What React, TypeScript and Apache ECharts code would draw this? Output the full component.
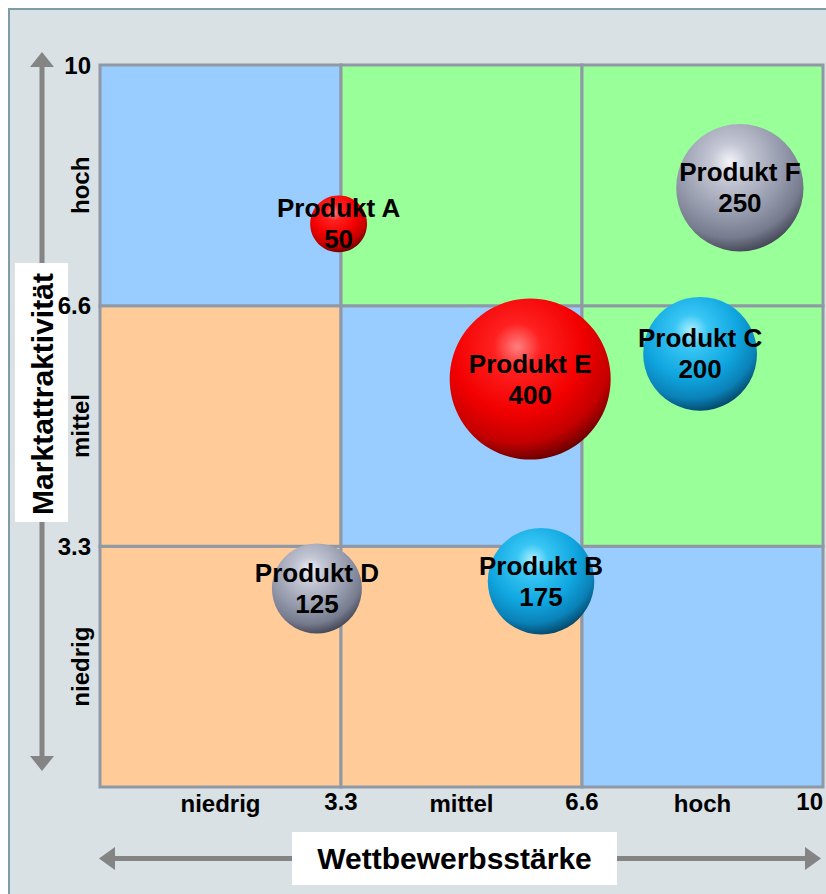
import React, { useEffect, useRef } from "react";
import * as echarts from "echarts";

// ---- data ----
const products = ["Produkt A", "Produkt B", "Produkt C", "Produkt D", "Produkt E", "Produkt F"];
const strength = [3.3, 6.1, 8.3, 3.0, 5.95, 8.85]; // Wettbewerbsstärke (x)
const attractiveness = [7.8, 2.85, 6.0, 2.75, 5.65, 8.3]; // Marktattraktivität (y)
const revenue = [50, 175, 200, 125, 400, 250]; // bubble value
const colorGroup = ["red", "blue", "blue", "gray", "red", "gray"];

const bandEdges = [0, 10 / 3, 20 / 3, 10];
const tickLabels = ["", "3.3", "6.6", "10"];
const levelLabels = ["niedrig", "mittel", "hoch"];
// cell colours, rows from bottom to top, columns left to right
const cellColors = [
  ["orange", "orange", "blue"],
  ["orange", "blue", "green"],
  ["blue", "green", "green"],
];

const cellPalette: Record<string, string> = {
  blue: "#99CCFF",
  green: "#99FF99",
  orange: "#FFCC99",
};

const FONT = "'Liberation Sans', Arial, Helvetica, sans-serif";

function sphere(kind: string) {
  const stops: Record<string, { offset: number; color: string }[]> = {
    red: [
      { offset: 0, color: "#ff8080" },
      { offset: 0.2, color: "#ff2020" },
      { offset: 0.55, color: "#f20000" },
      { offset: 0.8, color: "#c40000" },
      { offset: 1, color: "#560000" },
    ],
    blue: [
      { offset: 0, color: "#b0f0ff" },
      { offset: 0.2, color: "#38c6f4" },
      { offset: 0.55, color: "#10a6e0" },
      { offset: 0.8, color: "#0a82b8" },
      { offset: 1, color: "#033c5a" },
    ],
    gray: [
      { offset: 0, color: "#f4f5fa" },
      { offset: 0.2, color: "#c4c7d4" },
      { offset: 0.55, color: "#979cae" },
      { offset: 0.8, color: "#767b8e" },
      { offset: 1, color: "#393c4a" },
    ],
  };
  return new echarts.graphic.RadialGradient(0.42, 0.3, 0.74, stops[kind]);
}

function tickIndex(v: number) {
  return Math.round(v / (10 / 3));
}

export default function App() {
  const ref = useRef<HTMLDivElement>(null);

  useEffect(() => {
    if (!ref.current) return;
    const chart = echarts.init(ref.current, undefined, { renderer: "svg" });

    const cells: any[] = [];
    for (let r = 0; r < 3; r++) {
      for (let c = 0; c < 3; c++) {
        cells.push([
          {
            xAxis: bandEdges[c],
            yAxis: bandEdges[r],
            itemStyle: { color: cellPalette[cellColors[r][c]] },
          },
          { xAxis: bandEdges[c + 1], yAxis: bandEdges[r + 1] },
        ]);
      }
    }

    const bubbles = products.map((name, i) => ({
      name,
      value: [strength[i], attractiveness[i], revenue[i]],
      symbolSize: 8.05 * Math.sqrt(revenue[i]),
      itemStyle: { color: sphere(colorGroup[i]), opacity: 1 },
    }));

    const gray = "#848484";
    const labelStyle = {
      color: "#000",
      fontFamily: FONT,
      fontWeight: "bold" as const,
      fontSize: 24,
    };

    chart.setOption({
      animation: false,
      backgroundColor: "#ffffff",
      grid: { left: 100, right: 3, top: 65, bottom: 107 },
      xAxis: [
        {
          type: "value",
          min: 0,
          max: 10,
          interval: 10 / 3,
          axisLine: { show: false },
          axisTick: { show: false },
          splitLine: { show: false },
          axisLabel: {
            ...labelStyle,
            margin: 2,
            alignMaxLabel: "right",
            formatter: (v: number) => tickLabels[tickIndex(v)] ?? "",
          },
        },
        {
          type: "category",
          data: levelLabels,
          position: "bottom",
          boundaryGap: true,
          axisLine: { show: false },
          axisTick: { show: false },
          splitLine: { show: false },
          axisLabel: { ...labelStyle, margin: 4 },
        },
      ],
      yAxis: [
        {
          type: "value",
          min: 0,
          max: 10,
          interval: 10 / 3,
          axisLine: { show: false },
          axisTick: { show: false },
          splitLine: { show: false },
          axisLabel: {
            ...labelStyle,
            margin: 9,
            formatter: (v: number) => tickLabels[tickIndex(v)] ?? "",
          },
        },
        {
          type: "category",
          data: levelLabels,
          position: "left",
          boundaryGap: true,
          axisLine: { show: false },
          axisTick: { show: false },
          splitLine: { show: false },
          axisLabel: { ...labelStyle, rotate: 90, margin: 8 },
        },
      ],
      graphic: [
        {
          type: "rect",
          z: -10,
          silent: true,
          shape: { x: 9, y: 9, width: 840, height: 900 },
          style: { fill: "#d9e1e4", stroke: "#7d9ca6", lineWidth: 2 },
        },
        // vertical arrow
        {
          type: "line",
          z: -5,
          shape: { x1: 42, y1: 62, x2: 42, y2: 762 },
          style: { stroke: gray, lineWidth: 5 },
        },
        {
          type: "polygon",
          z: -5,
          shape: { points: [[42, 52], [54, 67], [30, 67]] },
          style: { fill: gray },
        },
        {
          type: "polygon",
          z: -5,
          shape: { points: [[42, 771], [54, 756], [30, 756]] },
          style: { fill: gray },
        },
        // horizontal arrow
        {
          type: "line",
          z: -5,
          shape: { x1: 108, y1: 858.5, x2: 812, y2: 858.5 },
          style: { stroke: gray, lineWidth: 5 },
        },
        {
          type: "polygon",
          z: -5,
          shape: { points: [[99, 858.5], [115, 847], [115, 870]] },
          style: { fill: gray },
        },
        {
          type: "polygon",
          z: -5,
          shape: { points: [[821, 858.5], [805, 847], [805, 870]] },
          style: { fill: gray },
        },
        // title boxes
        {
          type: "rect",
          z: -4,
          shape: { x: 292, y: 832, width: 325, height: 53 },
          style: { fill: "#ffffff" },
        },
        {
          type: "text",
          z: -3,
          x: 454.5,
          y: 858.5,
          style: {
            text: "Wettbewerbsstärke",
            fill: "#000",
            font: `bold 30px ${FONT}`,
            align: "center",
            verticalAlign: "middle",
          },
        },
        {
          type: "rect",
          z: -4,
          shape: { x: 15, y: 263, width: 53, height: 259 },
          style: { fill: "#ffffff" },
        },
        {
          type: "text",
          z: -3,
          x: 42,
          y: 394,
          rotation: Math.PI / 2,
          style: {
            text: "Marktattraktivität",
            fill: "#000",
            font: `bold 30px ${FONT}`,
            align: "center",
            verticalAlign: "middle",
          },
        },
      ],
      series: [
        {
          type: "scatter",
          xAxisIndex: 0,
          yAxisIndex: 0,
          z: 1,
          clip: false,
          silent: true,
          data: [],
          markArea: {
            silent: true,
            itemStyle: { borderColor: "#8f99a6", borderWidth: 3 },
            label: { show: false },
            data: cells,
          },
        },
        {
          type: "scatter",
          xAxisIndex: 0,
          yAxisIndex: 0,
          z: 3,
          clip: false,
          silent: true,
          itemStyle: { opacity: 1 },
          data: bubbles,
          label: {
            show: true,
            position: "inside",
            color: "#000",
            opacity: 1,
            textBorderWidth: 0,
            fontFamily: FONT,
            fontWeight: "bold",
            fontSize: 26,
            lineHeight: 31,
            formatter: (p: any) => `${p.name}\n${p.value[2]}`,
          },
        },
      ],
    });

    return () => chart.dispose();
  }, []);

  return (
    <div
      ref={ref}
      style={{ position: "absolute", left: 0, top: 0, width: 826, height: 894 }}
    />
  );
}
